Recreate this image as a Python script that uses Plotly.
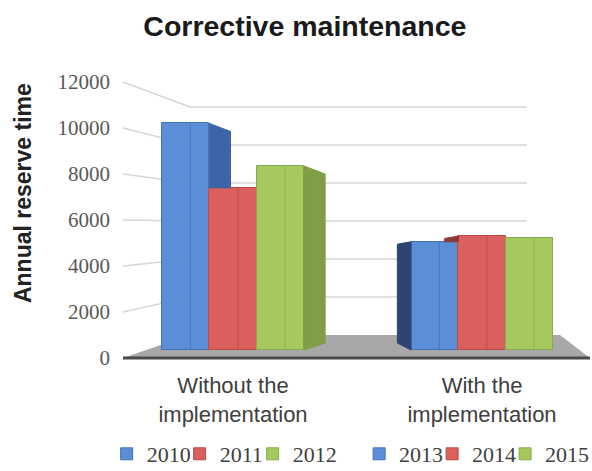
import plotly.graph_objects as go

# ---------------- data ----------------
categories = ["Without the<br>implementation", "With the<br>implementation"]
years_without = ["2010", "2011", "2012"]
years_with = ["2013", "2014", "2015"]
values_without = [10200, 7400, 8350]
values_with = [5050, 5300, 5200]
y_ticks = [0, 2000, 4000, 6000, 8000, 10000, 12000]
y_tick_labels = ["0", "2000", "4000", "6000", "8000", "10000", "12000"]

# ---------------- styles ----------------
front_colors = ["#5b8ed6", "#d9605c", "#a5c85f"]
edge_colors = ["#4472b8", "#bb4c48", "#88aa4c"]
stripe_colors = ["rgba(60,100,170,0.45)", "rgba(170,60,60,0.40)", "rgba(120,150,60,0.40)"]
side_colors_right = ["#3b65a8", "#b0463f", "#7f9e47"]
side_colors_left = ["#2f4470", "#8e3a3a", "#6f8a3e"]

BAR_W = 0.19          # bar width in category units
FLOOR_BASE = 350      # where bar fronts meet the floor
FLOOR_BACK = 1000     # back edge of the floor (front-scale units)
BACK_SCALE = 0.826    # perspective shrink of the back wall
X0, X1 = -0.4418, 1.4337
Y0, Y1 = -522, 12522
X_BACK_L, X_BACK_R, X_FLOOR_R = -0.173, 1.18, 1.313

fig = go.Figure()

groups = [(years_without, values_without, +1, side_colors_right, 0.085),
          (years_with, values_with, -1, side_colors_left, 0.055)]

# side faces (3-D look), clipped by neighbouring bars
for g, (years, vals, direction, scol, depth) in enumerate(groups):
    for i, v in enumerate(vals):
        x = g + (i - 1) * BAR_W
        edge = x + direction * BAR_W / 2
        j = i + direction
        clip = vals[j] if 0 <= j < len(vals) else FLOOR_BASE
        if v <= clip:
            continue
        bottom = max(clip, FLOOR_BASE)
        rise = 300 if bottom == FLOOR_BASE else 0
        slope = 350 if direction > 0 else 100
        xs = [edge, edge, edge + direction * depth, edge + direction * depth, edge]
        ys = [bottom, v, v - slope, bottom + rise, bottom]
        fig.add_trace(go.Scatter(x=xs, y=ys, mode="lines", fill="toself",
                                 fillcolor=scol[i], line=dict(color=scol[i], width=1),
                                 showlegend=False, hoverinfo="skip"))

# front faces (bars)
for g, (years, vals, direction, scol, depth) in enumerate(groups):
    leg = "legend" if g == 0 else "legend2"
    for i, v in enumerate(vals):
        xc = g + (i - 1) * BAR_W
        fig.add_trace(go.Bar(
            x=[xc], y=[v - FLOOR_BASE], base=FLOOR_BASE,
            width=BAR_W, name=years[i],
            marker=dict(color=front_colors[i], line=dict(color=edge_colors[i], width=1)),
            legend=leg,
        ))
        # subtle vertical shading stripe on the front face
        fig.add_trace(go.Scatter(x=[xc + BAR_W * 0.1, xc + BAR_W * 0.1],
                                 y=[FLOOR_BASE, v], mode="lines",
                                 line=dict(color=stripe_colors[i], width=1.2),
                                 showlegend=False, hoverinfo="skip"))
    # empty spacer entry so the last legend label is not clipped
    fig.add_trace(go.Bar(x=[None], y=[None], name="\u2007", legend=leg,
                         marker=dict(color="rgba(0,0,0,0)",
                                     line=dict(width=0, color="rgba(0,0,0,0)")),
                         hoverinfo="skip"))

# background: gridlines on left & back wall, floor
shapes = []
for t in y_ticks[1:]:
    tb = FLOOR_BACK + BACK_SCALE * t
    shapes.append(dict(type="path", layer="below", xref="x", yref="y",
                       path=f"M {X0},{t} L {X_BACK_L},{tb} L {X_BACK_R},{tb}",
                       line=dict(color="#d6d6d6", width=1.6)))
shapes.append(dict(type="path", layer="below", xref="x", yref="y",
                   path=f"M {X0},0 L {X_BACK_L},{FLOOR_BACK} L {X_FLOOR_R},{FLOOR_BACK} L {X1},0 Z",
                   fillcolor="#a8a8a8", line=dict(width=0)))
shapes.append(dict(type="line", layer="below", xref="x", yref="y",
                   x0=X0, y0=0, x1=X1, y1=0, line=dict(color="#4a4a4a", width=3)))

legend_common = dict(orientation="h", yanchor="middle", xanchor="left",
                     font=dict(family="Liberation Serif", size=22, color="#404040"),
                     bgcolor="rgba(0,0,0,0)", entrywidth=28, itemwidth=30,
                     tracegroupgap=0)

fig.update_layout(
    width=592, height=471,
    margin=dict(l=123, r=2, t=70, b=101, autoexpand=False),
    paper_bgcolor="white", plot_bgcolor="white",
    barmode="overlay", bargap=0,
    title=dict(text="<b>Corrective maintenance</b>", x=0.515, xanchor="center",
               y=0.945, yanchor="middle",
               font=dict(family="Liberation Sans", size=28.5, color="#1a1a1a")),
    xaxis=dict(range=[X0, X1], tickvals=[0, 1], ticktext=categories,
               showgrid=False, zeroline=False, showline=False, ticks="",
               tickfont=dict(family="Liberation Sans", size=22, color="#404040")),
    yaxis=dict(range=[Y0, Y1], tickvals=y_ticks, ticktext=y_tick_labels,
               showgrid=False, zeroline=False,
               showline=False, ticks="", ticklabelstandoff=12,
               tickfont=dict(family="Liberation Serif", size=21, color="#595959")),
    legend=dict(x=-0.035, y=-0.28, **legend_common),
    legend2=dict(x=0.5056, y=-0.28, **legend_common),
    shapes=shapes,
    annotations=[dict(text="<b>Annual reserve time</b>", textangle=-90,
                      xref="paper", yref="paper", x=-0.214, y=0.59,
                      xanchor="center", yanchor="middle", showarrow=False,
                      font=dict(family="Liberation Sans", size=23, color="#222222"))],
    showlegend=True,
)

fig.write_html("out.html")
